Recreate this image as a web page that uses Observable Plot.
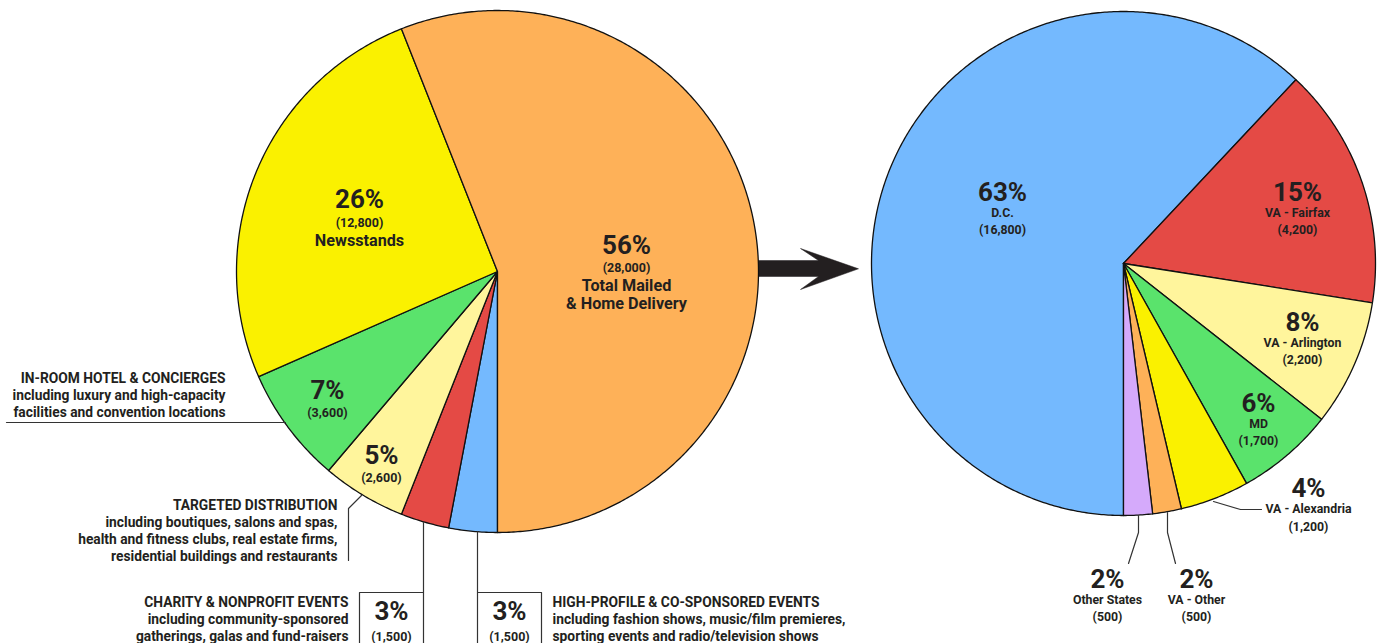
<!DOCTYPE html>
<html><head><meta charset="utf-8">
<script src="https://cdn.jsdelivr.net/npm/d3@7"></script>
<script src="https://cdn.jsdelivr.net/npm/@observablehq/plot@0.6"></script>
<style>html,body{margin:0;padding:0;background:#fff;} svg{display:block}</style>
</head><body><div id="chart"></div>
<script>
// ---------- DATA ----------
const distCategories = ["High-Profile & Co-Sponsored Events", "Charity & Nonprofit Events", "Targeted Distribution", "In-Room Hotel & Concierges", "Newsstands", "Total Mailed & Home Delivery"];
const distValues = [1500, 1500, 2600, 3600, 12800, 28000];
const distPercents = [3, 3, 5, 7, 26, 56];
const distColors = ["#74b9fe", "#e44a45", "#fff59c", "#5ae36c", "#faf100", "#feb158"];

const mailCategories = ["D.C.", "VA - Fairfax", "VA - Arlington", "MD", "VA - Alexandria", "VA - Other", "Other States"];
const mailValues = [16800, 4200, 2200, 1700, 1200, 500, 500];
const mailPercents = [63, 15, 8, 6, 4, 2, 2];
const mailColors = ["#74b9fe", "#e44a45", "#fff59c", "#5ae36c", "#faf100", "#feb158", "#d5aafb"];

// annotation texts
const hotelNote = ["IN-ROOM HOTEL & CONCIERGES", "including luxury and high-capacity", "facilities and convention locations"];
const targetedNote = ["TARGETED DISTRIBUTION", "including boutiques, salons and spas,", "health and fitness clubs, real estate firms,", "residential buildings and restaurants"];
const charityNote = ["CHARITY & NONPROFIT EVENTS", "including community-sponsored", "gatherings, galas and fund-raisers"];
const highNote = ["HIGH-PROFILE & CO-SPONSORED EVENTS", "including fashion shows, music/film premieres,", "sporting events and radio/television shows"];
const newsLabel = ["Newsstands"];
const mailedLabel = ["Total Mailed", "& Home Delivery"];

// ---------- LAYOUT ----------
const W = 1382, H = 643;
const pieL = {cx: 497, cy: 271, r: 261, start: 180};
const pieR = {cx: 1123, cy: 263, r: 252, start: 180};
const ink = "#231f20";
const font = "Roboto, 'Noto Sans', sans-serif";
const fmt = d3.format(",");

function slices(cats, vals, pie) {
  const total = d3.sum(vals);
  let a = pie.start;
  const pts = [];
  cats.forEach((c, i) => {
    const span = vals[i] / total * 360;
    const a0 = a, a1 = a + span;
    const n = Math.max(2, Math.ceil(span / 0.5));
    pts.push({k: c, x: pie.cx, y: pie.cy});
    for (let j = 0; j <= n; j++) {
      const t = (a0 + (a1 - a0) * j / n) * Math.PI / 180;
      pts.push({k: c, x: pie.cx + pie.r * Math.sin(t), y: pie.cy - pie.r * Math.cos(t)});
    }
    pts.push({k: c, x: pie.cx, y: pie.cy});
    a = a1;
  });
  return pts;
}
const slicePts = [...slices(distCategories, distValues, pieL), ...slices(mailCategories, mailValues, pieR)];

// text items
const T = []; // {x,y,t,s,a,ls}
const BIG = 26, MID = 16.2, SMALL = 12.5, NOTE = 13.8, RS = 12.3;
const LSB = 0.6, LSM = 0.5;
function pct(p) { return p + "%"; }
function val(v) { return "(" + fmt(v) + ")"; }
// left pie inner labels
T.push({x: 626, y: 245, t: pct(distPercents[5]), s: BIG, a: "middle", ls: LSB});
T.push({x: 626, y: 267.5, t: val(distValues[5]), s: SMALL, a: "middle", ls: LSB});
mailedLabel.forEach((l, i) => T.push({x: 626, y: 285 + i * 18.5, t: l, s: MID, a: "middle", ls: LSM}));
T.push({x: 359, y: 199, t: pct(distPercents[4]), s: BIG, a: "middle", ls: LSB});
T.push({x: 359, y: 222, t: val(distValues[4]), s: SMALL, a: "middle", ls: LSB});
T.push({x: 359, y: 240, t: newsLabel[0], s: MID, a: "middle", ls: LSM});
T.push({x: 327, y: 390.5, t: pct(distPercents[3]), s: BIG, a: "middle", ls: LSB});
T.push({x: 327, y: 412, t: val(distValues[3]), s: SMALL, a: "middle", ls: LSB});
T.push({x: 381, y: 455, t: pct(distPercents[2]), s: BIG, a: "middle", ls: LSB});
T.push({x: 381, y: 477, t: val(distValues[2]), s: SMALL, a: "middle", ls: LSB});
T.push({x: 391, y: 611, t: pct(distPercents[1]), s: BIG, a: "middle", ls: LSB});
T.push({x: 391, y: 636, t: val(distValues[1]), s: SMALL, a: "middle", ls: LSB});
T.push({x: 509, y: 611, t: pct(distPercents[0]), s: BIG, a: "middle", ls: LSB});
T.push({x: 509, y: 636, t: val(distValues[0]), s: SMALL, a: "middle", ls: LSB});
// notes
hotelNote.forEach((l, i) => T.push({x: 225, y: 378 + i * 17, t: l, s: NOTE, a: "end", ls: 0}));
targetedNote.forEach((l, i) => T.push({x: 337, y: 505.5 + i * 17, t: l, s: NOTE, a: "end", ls: 0}));
charityNote.forEach((l, i) => T.push({x: 348, y: 602 + i * 17, t: l, s: NOTE, a: "end", ls: 0}));
highNote.forEach((l, i) => T.push({x: 552, y: 602 + i * 17, t: l, s: NOTE, a: "start", ls: 0}));
// right pie labels
const rPos = [[1002, 192], [1297, 192], [1302, 322], [1258, 403], [1308, 488.5], [1196, 579], [1107, 579]];
mailCategories.forEach((c, i) => {
  const [x, y] = rPos[i];
  T.push({x, y, t: pct(mailPercents[i]), s: BIG, a: "middle", ls: LSB});
  T.push({x, y: y + 20.5, t: c, s: RS, a: "middle", ls: 0});
  T.push({x, y: y + 38, t: val(mailValues[i]), s: RS, a: "middle", ls: LSB});
});

// leader lines & boxes
const leaders = [
  {k: "hotel", pts: [[6, 422], [285, 422]]},
  {k: "targeted", pts: [[361, 495], [348, 508], [348, 560]]},
  {k: "charity", pts: [[423, 522], [423, 650]]},
  {k: "charityBox", pts: [[359, 650], [359, 592], [423, 592]]},
  {k: "high", pts: [[477, 531], [477, 650]]},
  {k: "highBox", pts: [[541, 650], [541, 592], [477, 592]]},
  {k: "alex", pts: [[1213, 501], [1240, 509], [1261, 509]]},
  {k: "otherStates", pts: [[1138, 515], [1138, 532], [1128, 563]]},
  {k: "vaOther", pts: [[1167, 512], [1167, 532], [1175, 563]]}
].flatMap(d => d.pts.map(([x, y]) => ({k: d.k, x, y})));

const arrow = [[750, 260], [818, 260], [800, 248], [858, 268.3], [800, 289], [818, 276], [750, 276], [750, 260]].map(([x, y]) => ({x, y}));

const textMarks = [];
for (const a of ["start", "middle", "end"]) {
  for (const ls of [0, LSB, LSM]) {
    const sub = T.filter(d => d.a === a && d.ls === ls);
    if (sub.length) textMarks.push(Plot.text(sub, {x: "x", y: "y", text: "t", fontSize: "s", textAnchor: a, fill: ink, fontWeight: 700, fontFamily: font, letterSpacing: ls + "px"}));
  }
}

const chart = Plot.plot({
  width: W, height: H, margin: 0,
  style: {background: "#fff", fontFamily: font},
  x: {domain: [0, W], range: [0, W], axis: null},
  y: {domain: [0, H], range: [0, H], axis: null},
  color: {domain: [...distCategories, ...mailCategories], range: [...distColors, ...mailColors]},
  marks: [
    Plot.line(arrow, {x: "x", y: "y", fill: ink, stroke: ink, strokeWidth: 0.5}),
    Plot.line(slicePts, {x: "x", y: "y", z: "k", fill: "k", stroke: "#111", strokeWidth: 1.3, strokeLinejoin: "round"}),
    Plot.line(leaders, {x: "x", y: "y", z: "k", stroke: "#333", strokeWidth: 1.2}),
    ...textMarks
  ]
});
document.getElementById("chart").appendChild(chart);
</script>
</body></html>
